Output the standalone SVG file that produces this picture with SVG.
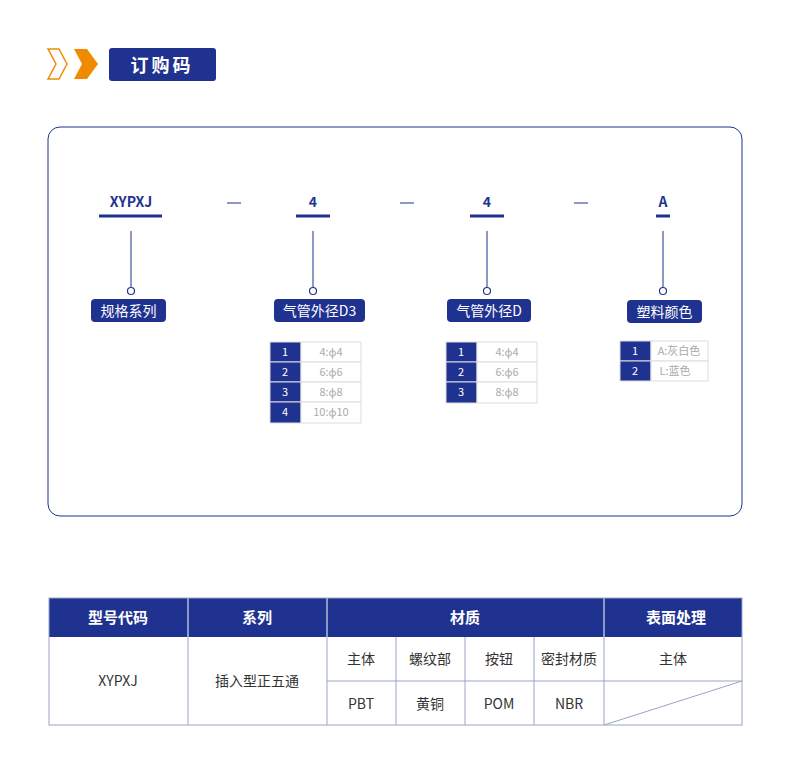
<svg xmlns="http://www.w3.org/2000/svg" width="790" height="757" viewBox="0 0 790 757">
<style>
text{font-family:"Noto Sans CJK SC","Noto Sans",sans-serif}
.code{font-size:14px;font-weight:bold;fill:#1f3290;text-anchor:middle}
.ul{stroke:#1f3290;stroke-width:3}
.dash{stroke:#1f3290;stroke-width:1}
.vl{stroke:#1f3290;stroke-width:1}
.dot{fill:#fff;stroke:#1f3290;stroke-width:1.2}
.lab{fill:#1f3290}
.labt{fill:#fff;font-size:14px;text-anchor:middle}
.nc{fill:#1f3290;stroke:#ddd}
.vc{fill:#fff;stroke:#ddd}
.nt{fill:#fff;font-size:11px;text-anchor:middle}
.vt{fill:#aaa;font-size:11px;text-anchor:middle}
.th{fill:#fff;font-size:15px;font-weight:bold;text-anchor:middle}
.td{fill:#333;font-size:14px;text-anchor:middle}
.gl{stroke:#9aa3c8;stroke-width:1;fill:none}
</style>
<rect width="790" height="757" fill="#fff"/>
<g id="title">
<path d="M48,49 H59 L67,64 L59,79 H48 L56,64 Z" fill="none" stroke="#f08a00" stroke-width="1.5"/>
<path d="M74,49 H87 L98,64 L87,79 H74 L82,64 Z" fill="#f08a00"/>
<rect x="109" y="48" width="107" height="33" rx="3" fill="#1f3290"/>
<text x="162" y="72" fill="#fff" font-size="18" font-weight="bold" text-anchor="middle" letter-spacing="3">订购码</text>
</g>
<rect x="48" y="127" width="694" height="389" rx="12" fill="none" stroke="#1f3290" stroke-width="1"/>
<g id="connectors">
<line class="dash" x1="227" y1="203" x2="241" y2="203"/>
<line class="dash" x1="400" y1="203" x2="414" y2="203"/>
<line class="dash" x1="574" y1="203" x2="588" y2="203"/>
<line class="vl" x1="131" y1="231" x2="131" y2="287"/>
<line class="vl" x1="313" y1="231" x2="313" y2="287"/>
<line class="vl" x1="487" y1="231" x2="487" y2="287"/>
<line class="vl" x1="663" y1="231" x2="663" y2="287"/>
</g>
<g id="n1">
<text class="code" x="131" y="207">XYPXJ</text>
<line class="ul" x1="99" y1="216" x2="162" y2="216"/>
<circle class="dot" cx="131" cy="291" r="3.5"/>
<rect class="lab" x="91" y="299" width="75" height="23" rx="4"/>
<text class="labt" x="128.5" y="316">规格系列</text>
</g>
<g id="n2">
<text class="code" x="313" y="207">4</text>
<line class="ul" x1="296" y1="216" x2="330" y2="216"/>
<circle class="dot" cx="313" cy="291" r="3.5"/>
<rect class="lab" x="274" y="299" width="91" height="23" rx="4"/>
<text class="labt" x="319.5" y="316">气管外径D3</text>
<rect class="nc" x="270" y="342" width="31" height="20"/><rect class="vc" x="301" y="342" width="60" height="20"/>
<rect class="nc" x="270" y="362" width="31" height="20"/><rect class="vc" x="301" y="362" width="60" height="20"/>
<rect class="nc" x="270" y="382" width="31" height="20"/><rect class="vc" x="301" y="382" width="60" height="20"/>
<rect class="nc" x="270" y="402" width="31" height="21"/><rect class="vc" x="301" y="402" width="60" height="21"/>
<text class="nt" x="285" y="356">1</text><text class="vt" x="331" y="356">4:ϕ4</text>
<text class="nt" x="285" y="376">2</text><text class="vt" x="331" y="376">6:ϕ6</text>
<text class="nt" x="285" y="396">3</text><text class="vt" x="331" y="396">8:ϕ8</text>
<text class="nt" x="285" y="416">4</text><text class="vt" x="331" y="416">10:ϕ10</text>
</g>
<g id="n3">
<text class="code" x="487" y="207">4</text>
<line class="ul" x1="470" y1="216" x2="504" y2="216"/>
<circle class="dot" cx="487" cy="291" r="3.5"/>
<rect class="lab" x="447" y="299" width="84" height="23" rx="4"/>
<text class="labt" x="489" y="316">气管外径D</text>
<rect class="nc" x="446" y="342" width="31" height="20"/><rect class="vc" x="477" y="342" width="60" height="20"/>
<rect class="nc" x="446" y="362" width="31" height="20"/><rect class="vc" x="477" y="362" width="60" height="20"/>
<rect class="nc" x="446" y="382" width="31" height="21"/><rect class="vc" x="477" y="382" width="60" height="21"/>
<text class="nt" x="461" y="356">1</text><text class="vt" x="507" y="356">4:ϕ4</text>
<text class="nt" x="461" y="376">2</text><text class="vt" x="507" y="376">6:ϕ6</text>
<text class="nt" x="461" y="396">3</text><text class="vt" x="507" y="396">8:ϕ8</text>
</g>
<g id="n4">
<text class="code" x="663" y="207">A</text>
<line class="ul" x1="656" y1="216" x2="670" y2="216"/>
<circle class="dot" cx="663" cy="291" r="3.5"/>
<rect class="lab" x="627" y="300" width="75" height="23" rx="4"/>
<text class="labt" x="664.5" y="317">塑料颜色</text>
<rect class="nc" x="620" y="341" width="31" height="20"/><rect class="vc" x="651" y="341" width="57" height="20"/>
<rect class="nc" x="620" y="361" width="31" height="20"/><rect class="vc" x="651" y="361" width="57" height="20"/>
<text class="nt" x="635" y="355">1</text><text class="vt" x="679" y="355">A:灰白色</text>
<text class="nt" x="635" y="375">2</text><text class="vt" x="675" y="375">L:蓝色</text>
</g>
<g id="table">
<rect x="49" y="598" width="693" height="39" fill="#1f3290"/>
<g stroke="#fff" stroke-width="1"><line x1="188" y1="598" x2="188" y2="637"/><line x1="327" y1="598" x2="327" y2="637"/><line x1="604" y1="598" x2="604" y2="637"/></g>
<text class="th" x="118" y="623">型号代码</text>
<text class="th" x="257" y="623">系列</text>
<text class="th" x="465" y="623">材质</text>
<text class="th" x="676" y="623">表面处理</text>
<rect class="gl" x="49" y="598" width="693" height="127"/>
<line class="gl" x1="188" y1="637" x2="188" y2="725"/>
<line class="gl" x1="327" y1="637" x2="327" y2="725"/>
<line class="gl" x1="396" y1="637" x2="396" y2="725"/>
<line class="gl" x1="465" y1="637" x2="465" y2="725"/>
<line class="gl" x1="534" y1="637" x2="534" y2="725"/>
<line class="gl" x1="604" y1="637" x2="604" y2="725"/>
<line class="gl" x1="327" y1="681" x2="742" y2="681"/>
<line class="gl" x1="604" y1="725" x2="742" y2="681"/>
<text class="td" x="118" y="686">XYPXJ</text>
<text class="td" x="257" y="686">插入型正五通</text>
<text class="td" x="361" y="664">主体</text>
<text class="td" x="430" y="664">螺纹部</text>
<text class="td" x="499" y="664">按钮</text>
<text class="td" x="569" y="664">密封材质</text>
<text class="td" x="673" y="664">主体</text>
<text class="td" x="361" y="709">PBT</text>
<text class="td" x="430" y="709">黄铜</text>
<text class="td" x="499" y="709">POM</text>
<text class="td" x="569" y="709">NBR</text>
</g>
</svg>
